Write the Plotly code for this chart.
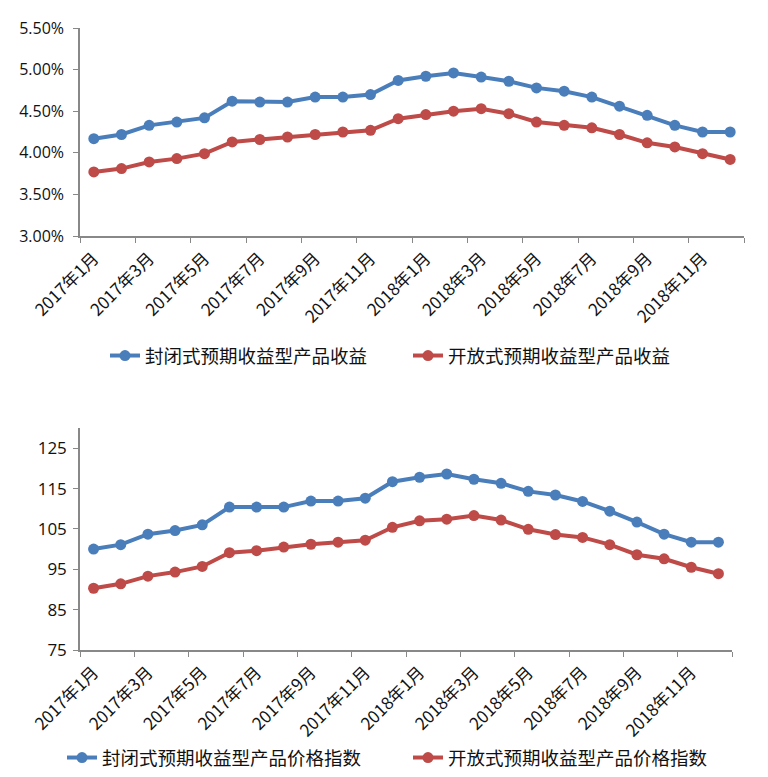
import plotly.graph_objects as go

months = [f"{y}年{m}月" for y in (2017, 2018) for m in range(1, 13)]

closed_yield = [4.17, 4.22, 4.33, 4.37, 4.42, 4.62, 4.61, 4.61, 4.67, 4.67, 4.70, 4.87,
                4.92, 4.96, 4.91, 4.86, 4.78, 4.74, 4.67, 4.56, 4.45, 4.33, 4.25, 4.25]
open_yield = [3.77, 3.81, 3.89, 3.93, 3.99, 4.13, 4.16, 4.19, 4.22, 4.25, 4.27, 4.41,
              4.46, 4.50, 4.53, 4.47, 4.37, 4.33, 4.30, 4.22, 4.12, 4.07, 3.99, 3.92]
closed_index = [100.0, 101.1, 103.7, 104.6, 106.0, 110.4, 110.4, 110.4, 111.9, 111.9, 112.6, 116.7,
                117.8, 118.6, 117.3, 116.3, 114.3, 113.4, 111.8, 109.4, 106.7, 103.7, 101.7, 101.7]
open_index = [90.3, 91.4, 93.3, 94.3, 95.7, 99.1, 99.6, 100.5, 101.2, 101.7, 102.2, 105.4,
              107.0, 107.4, 108.3, 107.2, 104.9, 103.6, 102.9, 101.1, 98.6, 97.6, 95.5, 93.9]

names_top = ["封闭式预期收益型产品收益", "开放式预期收益型产品收益"]
names_bot = ["封闭式预期收益型产品价格指数", "开放式预期收益型产品价格指数"]

BLUE = "#4A7EBB"
RED = "#BE4B48"
W, H = 768, 777

fig = go.Figure()

def add(y, name, color, xa, ya, leg):
    fig.add_trace(go.Scatter(
        x=months, y=y, name=name, mode="lines+markers",
        line=dict(color=color, width=4),
        marker=dict(color=color, size=11, symbol="circle"),
        xaxis=xa, yaxis=ya, legend=leg))

add([v / 100 for v in closed_yield], names_top[0], BLUE, "x", "y", "legend")
add([v / 100 for v in open_yield], names_top[1], RED, "x", "y", "legend")
add(closed_index, names_bot[0], BLUE, "x2", "y2", "legend2")
add(open_index, names_bot[1], RED, "x2", "y2", "legend2")

axis_font = dict(family="Open Sans, Liberation Sans, sans-serif", size=16, color="#111")
tick_font = dict(family="Noto Sans CJK SC, sans-serif", size=17, color="#111")
AX = "#888888"

common_x = dict(type="category", range=[-0.5, 23.5], dtick=2, tick0=0,
                tickson="boundaries", ticks="outside", ticklen=5, tickcolor=AX,
                showline=True, linecolor=AX, linewidth=1.5, showgrid=False,
                tickangle=-45, tickfont=tick_font, zeroline=False, automargin=False,
                ticklabelstandoff=4)
common_y = dict(ticks="outside", ticklen=5, tickcolor=AX, showline=True,
                linecolor=AX, linewidth=1.5, showgrid=False, zeroline=False,
                automargin=False)

leg_font = dict(family="Noto Sans CJK SC", size=18.5, color="#111")

fig.update_layout(
    width=W, height=H,
    margin=dict(l=0, r=0, t=0, b=0, autoexpand=False),
    paper_bgcolor="white", plot_bgcolor="white",
    xaxis=dict(domain=[80 / W, 744 / W], anchor="y", **common_x),
    yaxis=dict(domain=[(H - 236) / H, (H - 28) / H], anchor="x",
               range=[0.03, 0.055], dtick=0.005, tick0=0.03, tickformat=".2%",
               ticklabelstandoff=6, tickfont=axis_font, **common_y),
    xaxis2=dict(domain=[80 / W, 732 / W], anchor="y2", **common_x),
    yaxis2=dict(domain=[(H - 650) / H, (H - 428) / H], anchor="x2",
                range=[75, 130], dtick=10, tick0=75,
                ticklabelstandoff=3, tickfont=dict(axis_font, size=17), **common_y),
    legend=dict(orientation="h", x=105 / W, xanchor="left", y=(H - 356) / H,
                yanchor="middle", entrywidth=258, entrywidthmode="pixels",
                font=leg_font, bgcolor="rgba(0,0,0,0)", itemclick=False),
    legend2=dict(orientation="h", x=62 / W, xanchor="left", y=(H - 758) / H,
                 yanchor="middle", entrywidth=301, entrywidthmode="pixels",
                 font=leg_font, bgcolor="rgba(0,0,0,0)", itemclick=False),
    showlegend=True,
)

fig.write_html("out.html", config={"displayModeBar": False},
               post_script="document.body.style.margin='0px';")
